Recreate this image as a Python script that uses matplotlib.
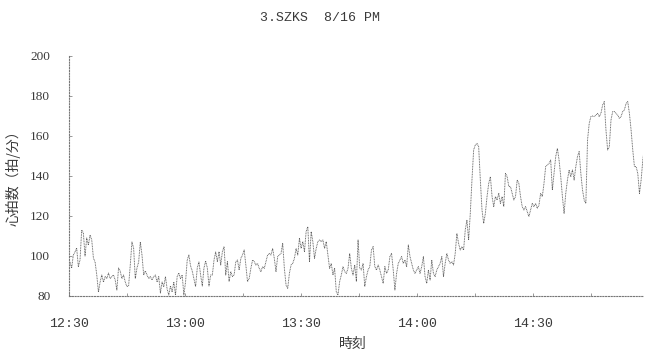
import numpy as np
import matplotlib
matplotlib.use("Agg")
import matplotlib.pyplot as plt
from matplotlib.ticker import MultipleLocator

# heart rate (beats/min), one sample every 26 s starting 12:30:15
hr_1230 = [97, 94, 100.5, 102, 104, 94.7, 98, 113, 111.5, 100, 109, 105.5, 110.5, 108,
           99, 97, 90.5, 82, 87, 90.5, 87, 89.7, 88.7, 91.5, 88.7, 89.7, 90.5, 88, 83,
           94, 92.5, 88.7, 90.5, 87, 84.7, 85, 95.5, 107, 104, 88.7, 94, 97, 107, 100.5,
           90.5, 92.5, 90.5, 88.7, 89.7, 88, 89.7, 90.5, 87, 89.7, 81.5, 87, 84.7, 89.7,
           83.5, 80.5, 85, 82, 87, 80.5, 89.7, 91.5, 88.7, 90.5, 80.5, 87, 98, 100.5, 95,
           92.5, 88.7, 84.7, 94, 97, 90.5, 85, 94, 97.5, 94, 85, 90.5, 90.5, 98, 102]
hr_1300 = [97.2, 102.2, 95.5, 102.2, 104.7, 90.5, 97.2, 87.2, 92.2, 89.7, 90.5, 97.2,
           98, 93, 98.8, 100.5, 103, 95.5, 87.2, 88.8, 93.8, 98, 97.2, 95.5, 96.3, 93.8,
           92.2, 94.7, 93.8, 97.2, 100.5, 101.3, 100.5, 103.8, 98.8, 92.2, 99.7, 100.5,
           101.3, 106.3, 93.8, 85.5, 83.8, 91.3, 95.5, 96.3, 98.8, 103.8, 100.5, 108.8,
           103.8, 107.2, 102.2, 112.2, 114.7, 97.2, 112.2, 107.2, 98.8, 103.8, 107.2, 108,
           107.2, 108, 103.8, 107.2, 100.5, 93.8, 96.3, 90.5, 93.8, 82.2, 80.5, 87.2, 90.5,
           94.7, 92.2, 91.3, 93.8, 101.3, 93.8, 90.5, 95.5, 87.2, 108, 93.8]
hr_1400 = [93, 96.3, 84.7, 89.7, 93, 94.7, 103, 104.7, 94.7, 93, 95.5, 93, 89.7, 86.3,
           94.7, 91.3, 93, 99.7, 101.3, 93, 83, 91.3, 96.3, 98, 99.7, 96.3, 98, 94.7,
           105.5, 99.7, 96.3, 93, 91.3, 93, 94.7, 91.3, 94.7, 99.7, 89.7, 86.3, 93, 88,
           98, 91.3, 89.7, 93, 94.7, 96.3, 99.7, 89.7, 96.3, 101.3, 98, 96.3, 97.2, 95.5,
           101.3, 111.3, 106.3, 103, 104.7, 103, 113, 118, 108, 121.3, 138, 153, 155.5,
           156.3, 154.7, 138, 123, 116.3, 121.3, 129.7, 136.3, 139.7, 129.7, 124.7, 129.7,
           128, 131.3, 126.3, 129.7, 124.7, 141.3]
hr_1430 = [139.7, 134.7, 134.7, 131.3, 128, 129.7, 138, 136.3, 129.7, 124.7, 123, 124.7,
           122.2, 119.7, 123, 126.3, 124.7, 126.3, 123.8, 125.5, 131.3, 129.7, 136.3,
           144.7, 145.5, 146.3, 148, 133, 141.3, 149.7, 153.8, 148, 139.7, 129.7, 121.3,
           131.3, 138, 143, 139.7, 143, 138, 144.7, 149.7, 152.2, 141.3, 133, 128, 126.3,
           158, 166.3, 169.7, 170, 169.7, 170.5, 171.3, 169.7, 171.3, 175.5, 177.2, 163,
           153, 154.7, 168, 172.2, 172.2, 171.3, 170.5, 168.8, 169.7, 172.2, 173, 176.3,
           177.2, 171.3, 163, 153, 144.7, 144.7, 141.3, 131.3, 138, 148, 154.7, 158.8]

sample_sec = 26
start_sec = 15

tick_minutes = [0, 30, 60, 90, 120]
tick_labels = ["12:30", "13:00", "13:30", "14:00", "14:30"]
y_ticks = [80, 100, 120, 140, 160, 180, 200]

heart_rate = np.array(hr_1230 + hr_1300 + hr_1400 + hr_1430)
minutes = (start_sec + np.arange(len(heart_rate)) * sample_sec) / 60.0

text_color = "#3a3a3a"

fig = plt.figure(figsize=(6.46, 3.51), dpi=100)
ax = fig.add_axes([69 / 646, 55 / 351, 574 / 646, 240 / 351])

ax.plot(minutes, heart_rate, color="#5c5c5c", linewidth=0.65, linestyle=(0, (1, 0.8)))

ax.set_xlim(0, 148.5)
ax.set_ylim(80, 200)
ax.set_xticks(tick_minutes)
ax.set_xticklabels(tick_labels, family="Liberation Mono", fontsize=9.5, color=text_color)
ax.xaxis.set_minor_locator(MultipleLocator(15))
ax.set_yticks(y_ticks)
ax.set_yticklabels([str(v) for v in y_ticks], family="Liberation Serif", fontsize=9.5,
                   color=text_color)
ax.tick_params(axis="x", which="both", direction="in", length=2, width=0.6,
               color="#888888", pad=16)
ax.tick_params(axis="y", direction="in", length=2, width=0.6, color="#888888", pad=13.5)

for side in ("top", "right"):
    ax.spines[side].set_visible(False)
for side in ("left", "bottom"):
    ax.spines[side].set_linestyle((0, (1, 1.5)))
    ax.spines[side].set_linewidth(0.8)
    ax.spines[side].set_color("#777777")

cjk = ["Noto Sans CJK JP", "DejaVu Sans"]
ax.set_ylabel("心拍数（拍/分）", family=cjk, fontsize=10, color=text_color)
ax.yaxis.set_label_coords(-48 / 574, 0.505)
ax.set_xlabel("時刻", family=cjk, fontsize=10, color=text_color)
ax.xaxis.set_label_coords(284 / 574, -41 / 240)

fig.text(320 / 646, 1 - 18 / 351, "3.SZKS  8/16 PM", family="Liberation Mono",
         fontsize=9.5, color=text_color, ha="center", va="center")

fig.savefig("out.png", dpi=100)
